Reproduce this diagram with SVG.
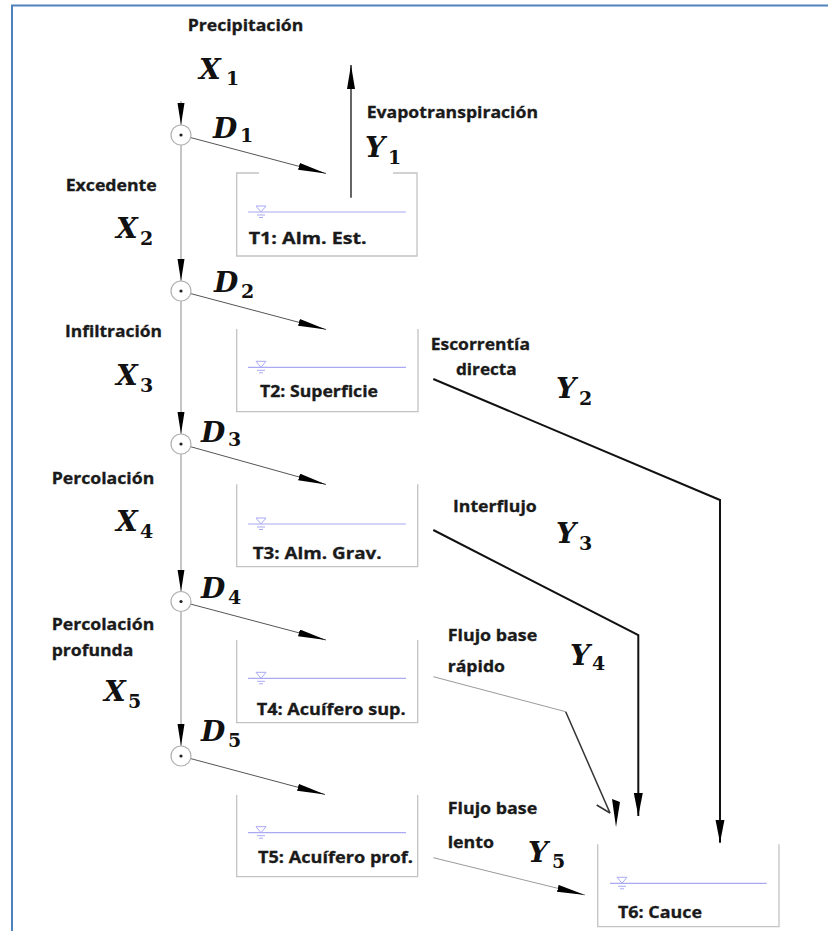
<svg xmlns="http://www.w3.org/2000/svg" width="828" height="931" viewBox="0 0 828 931">
<style>
.frame{fill:none;stroke:#4f81bd;stroke-width:2}
.tank{fill:none;stroke:#c3c3c3;stroke-width:1.3}
.water{stroke:#a9a9f4;stroke-width:1.2}
.ws{fill:none;stroke:#a9a9f4;stroke-width:1}
.jc{fill:#fff;stroke:#b0b0b0;stroke-width:1.2}
.jd{fill:#222}
.main{fill:none;stroke:#a6a6a6;stroke-width:1.3}
.diag{fill:none;stroke:#555;stroke-width:1}
.thin{fill:none;stroke:#9a9a9a;stroke-width:1}
.bold{fill:none;stroke:#111;stroke-width:2}
.med{fill:none;stroke:#333;stroke-width:1.5}
.lbl{font-family:"Open Sans","Liberation Sans",sans-serif;font-weight:700;font-size:15.5px;fill:#1a1a1a;stroke:#1a1a1a;stroke-width:0.3}
.m{font-family:"DejaVu Serif","Liberation Serif",serif;font-style:italic;font-weight:700;font-size:28px;fill:#111}
.s{font-family:"DejaVu Serif","Liberation Serif",serif;font-weight:700;font-size:19px;fill:#111}
</style>
<defs>
<marker id="ahV" markerUnits="userSpaceOnUse" markerWidth="23" markerHeight="8" refX="22" refY="3.5" orient="auto">
<path d="M0,0 L22,3.5 L0,7 Z" fill="#000"/>
</marker>
<marker id="ahD" markerUnits="userSpaceOnUse" markerWidth="29" markerHeight="8" refX="28" refY="3.5" orient="auto">
<path d="M0,0 L28,3.5 L0,7 Z" fill="#000"/>
</marker>
<marker id="ahE" markerUnits="userSpaceOnUse" markerWidth="25" markerHeight="9" refX="24" refY="4" orient="auto">
<path d="M0,0 L24,4 L0,8 Z" fill="#000"/>
</marker>
<marker id="ahB" markerUnits="userSpaceOnUse" markerWidth="24" markerHeight="10" refX="23" refY="4.5" orient="auto">
<path d="M0,0 L23,4.5 L0,9 Z" fill="#000"/>
</marker>
<g id="wsym">
<polygon class="ws" points="-5,-6 5,-6 0,0"/>
<line class="ws" x1="-4" y1="3" x2="4" y2="3"/>
<line class="ws" x1="-2" y1="5.5" x2="2" y2="5.5"/>
</g>
</defs>

<rect width="828" height="931" fill="#fff"/>
<path class="frame" d="M828,5.5 H12 V931"/>

<!-- connectors -->
<g id="connectors">
<line class="main" x1="181" y1="101" x2="181" y2="125" marker-end="url(#ahV)"/>
<line class="main" x1="181" y1="145" x2="181" y2="281" marker-end="url(#ahV)"/>
<line class="main" x1="181" y1="301" x2="181" y2="434" marker-end="url(#ahV)"/>
<line class="main" x1="181" y1="454" x2="181" y2="591.5" marker-end="url(#ahV)"/>
<line class="main" x1="181" y1="611.5" x2="181" y2="746" marker-end="url(#ahV)"/>
<line class="diag" x1="190.7" y1="137.6" x2="326" y2="173.5" marker-end="url(#ahD)"/>
<line class="diag" x1="190.7" y1="293.6" x2="326" y2="329.5" marker-end="url(#ahD)"/>
<line class="diag" x1="190.6" y1="446.7" x2="326" y2="484.5" marker-end="url(#ahD)"/>
<line class="diag" x1="190.7" y1="604.1" x2="326" y2="640" marker-end="url(#ahD)"/>
<line class="diag" x1="190.7" y1="758.6" x2="325" y2="794.5" marker-end="url(#ahD)"/>
<line class="med" x1="351" y1="197.7" x2="351" y2="65" marker-end="url(#ahE)"/>
<polyline class="bold" points="433.3,379 720,500 720,842.7" marker-end="url(#ahB)"/>
<polyline class="bold" points="433.3,530 638.3,635 638.3,816" marker-end="url(#ahB)"/>
<polyline class="thin" points="433.3,676.7 565.7,711.7"/>
<polyline class="med" points="565.7,711.7 610,813"/>
<polyline class="med" points="596.7,805 610,813"/>
<polygon points="612,799 620,802 616,827" fill="#000"/>
<line class="thin" x1="433.3" y1="857.7" x2="585" y2="895" marker-end="url(#ahD)"/>
</g>

<!-- junctions -->
<g id="J1"><circle class="jc" cx="181" cy="135" r="10"/><circle class="jd" cx="181" cy="135" r="1.6"/></g>
<g id="J2"><circle class="jc" cx="181" cy="291" r="10"/><circle class="jd" cx="181" cy="291" r="1.6"/></g>
<g id="J3"><circle class="jc" cx="181" cy="444" r="10"/><circle class="jd" cx="181" cy="444" r="1.6"/></g>
<g id="J4"><circle class="jc" cx="181" cy="601.5" r="10"/><circle class="jd" cx="181" cy="601.5" r="1.6"/></g>
<g id="J5"><circle class="jc" cx="181" cy="756" r="10"/><circle class="jd" cx="181" cy="756" r="1.6"/></g>

<!-- tanks -->
<g id="T1">
<path class="tank" d="M259,173 H236.7 V256 H417 V173 H393"/>
<line class="water" x1="248" y1="212" x2="406" y2="212"/>
<use href="#wsym" x="261" y="212"/>
<text class="lbl" x="248.7" y="244" textLength="118" lengthAdjust="spacingAndGlyphs">T1: Alm. Est.</text>
</g>
<g id="T2">
<path class="tank" d="M236.7,329 V411.7 H418 V329"/>
<line class="water" x1="248" y1="367.3" x2="406" y2="367.3"/>
<use href="#wsym" x="261" y="367.3"/>
<text class="lbl" x="260" y="397" textLength="118" lengthAdjust="spacingAndGlyphs">T2: Superficie</text>
</g>
<g id="T3">
<path class="tank" d="M236.7,484.3 V566.7 H417.7 V484.3"/>
<line class="water" x1="248" y1="524" x2="406" y2="524"/>
<use href="#wsym" x="261" y="524"/>
<text class="lbl" x="252.7" y="559" textLength="129" lengthAdjust="spacingAndGlyphs">T3: Alm. Grav.</text>
</g>
<g id="T4">
<path class="tank" d="M236.7,640 V722.7 H417.7 V640"/>
<line class="water" x1="248" y1="678.3" x2="406" y2="678.3"/>
<use href="#wsym" x="261" y="678.3"/>
<text class="lbl" x="256.7" y="715" textLength="149" lengthAdjust="spacingAndGlyphs">T4: Acuífero sup.</text>
</g>
<g id="T5">
<path class="tank" d="M236.7,795 V876.7 H417.7 V795"/>
<line class="water" x1="248" y1="832.7" x2="406" y2="832.7"/>
<use href="#wsym" x="261" y="832.7"/>
<text class="lbl" x="258" y="863" textLength="155" lengthAdjust="spacingAndGlyphs">T5: Acuífero prof.</text>
</g>
<g id="T6">
<path class="tank" d="M597.7,844.3 V926.7 H779 V844.3"/>
<line class="water" x1="610" y1="883.3" x2="766.7" y2="883.3"/>
<use href="#wsym" x="622" y="883.3"/>
<text class="lbl" x="618" y="918" textLength="84" lengthAdjust="spacingAndGlyphs">T6: Cauce</text>
</g>

<!-- flow labels -->
<g id="labels">
<text class="lbl" x="187.7" y="31" textLength="115.6" lengthAdjust="spacingAndGlyphs">Precipitación</text>
<text class="lbl" x="366.7" y="118" textLength="171.3" lengthAdjust="spacingAndGlyphs">Evapotranspiración</text>
<text class="lbl" x="65.7" y="191" textLength="91" lengthAdjust="spacingAndGlyphs">Excedente</text>
<text class="lbl" x="65" y="337" textLength="97" lengthAdjust="spacingAndGlyphs">Infiltración</text>
<text class="lbl" x="51.7" y="484" textLength="102.6" lengthAdjust="spacingAndGlyphs">Percolación</text>
<text class="lbl" x="51.7" y="630" textLength="102.6" lengthAdjust="spacingAndGlyphs">Percolación</text>
<text class="lbl" x="51.7" y="656" textLength="81.6" lengthAdjust="spacingAndGlyphs">profunda</text>
<text class="lbl" x="430.7" y="350" textLength="99.3" lengthAdjust="spacingAndGlyphs">Escorrentía</text>
<text class="lbl" x="456" y="375" textLength="60.7" lengthAdjust="spacingAndGlyphs">directa</text>
<text class="lbl" x="453" y="511.7" textLength="83.7" lengthAdjust="spacingAndGlyphs">Interflujo</text>
<text class="lbl" x="447.7" y="641" textLength="89.6" lengthAdjust="spacingAndGlyphs">Flujo base</text>
<text class="lbl" x="447.7" y="672" textLength="57.3" lengthAdjust="spacingAndGlyphs">rápido</text>
<text class="lbl" x="447.7" y="813.5" textLength="89.6" lengthAdjust="spacingAndGlyphs">Flujo base</text>
<text class="lbl" x="447.7" y="848" textLength="46.3" lengthAdjust="spacingAndGlyphs">lento</text>

<text class="m" x="199" y="79">X</text><text class="s" x="226" y="85">1</text>
<text class="m" x="116" y="238">X</text><text class="s" x="140" y="245">2</text>
<text class="m" x="116" y="385">X</text><text class="s" x="140" y="392">3</text>
<text class="m" x="116" y="531">X</text><text class="s" x="140" y="538">4</text>
<text class="m" x="104" y="701">X</text><text class="s" x="128" y="708">5</text>

<text class="m" x="213" y="138">D</text><text class="s" x="240" y="142">1</text>
<text class="m" x="214" y="292">D</text><text class="s" x="241" y="298">2</text>
<text class="m" x="201" y="441.5">D</text><text class="s" x="228" y="446">3</text>
<text class="m" x="201" y="598">D</text><text class="s" x="228" y="604">4</text>
<text class="m" x="201" y="741">D</text><text class="s" x="228" y="747">5</text>

<text class="m" x="365" y="157">Y</text><text class="s" x="388" y="164">1</text>
<text class="m" x="556" y="398">Y</text><text class="s" x="579" y="405">2</text>
<text class="m" x="556" y="543">Y</text><text class="s" x="579" y="550">3</text>
<text class="m" x="570" y="665">Y</text><text class="s" x="592" y="670">4</text>
<text class="m" x="528" y="861.5">Y</text><text class="s" x="552" y="868">5</text>
</g>
</svg>
